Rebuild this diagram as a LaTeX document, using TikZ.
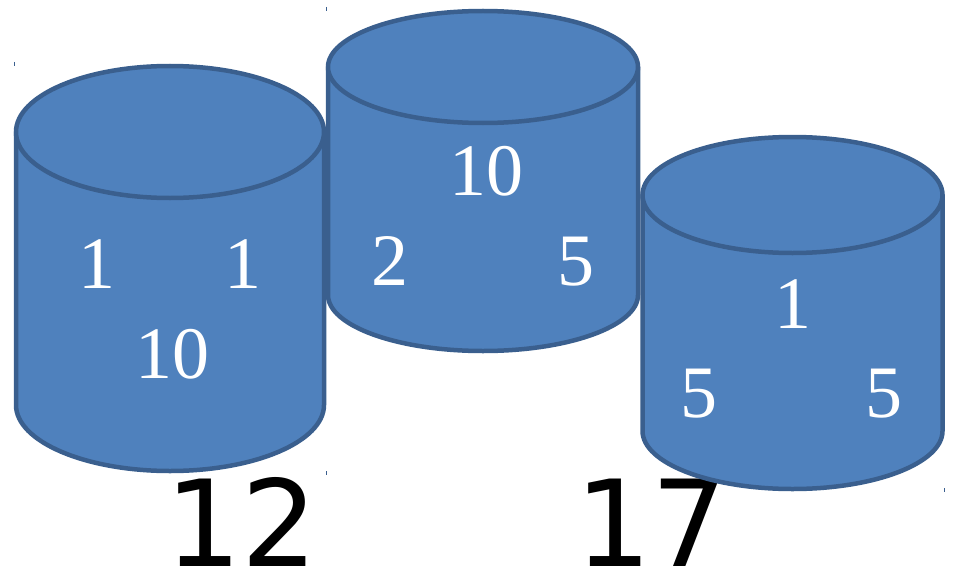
\documentclass[tikz,border=0pt]{standalone}
\usepackage{fontspec}
\setmainfont{Liberation Serif}
\newfontfamily\sumfont{DejaVu Sans}
\definecolor{cylfill}{HTML}{4F81BD}
\definecolor{cyledge}{HTML}{3A5F8E}
\tikzset{
  cylpart/.style={fill=cylfill,draw=cyledge,line width=4.5pt,line join=round},
  numlabel/.style={text=white,inner sep=0pt,anchor=base,font=\fontsize{74}{74}\selectfont},
  sumlabel/.style={text=black,inner sep=0pt,anchor=base,font=\sumfont\fontsize{120}{120}\selectfont}
}
\begin{document}
\begin{tikzpicture}[x=1pt,y=-1pt]
\useasboundingbox (0,0) rectangle (957,575);
\node[sumlabel] (sumleft) at (242,566) {12};
\node[sumlabel] (sumright) at (652,566) {17};
\foreach \cx/\rx/\yt/\yb/\ry in {170/154/132/405/66, 483/155/67/295/56, 792.5/150/195/431/58}
{
\draw[cylpart] (\cx-\rx,\yt) -- (\cx-\rx,\yb) arc[start angle=180,end angle=0,x radius=\rx,y radius=\ry] -- (\cx+\rx,\yt) -- cycle;
\draw[cylpart] (\cx,\yt) ellipse[x radius=\rx,y radius=\ry];
}
\foreach \tx/\ty in {14/64,326/9,326/473,944/490}
\draw[cyledge,line width=1pt] (\tx,\ty-2) -- (\tx,\ty+2);
\node[numlabel] (la) at (97,288) {1};
\node[numlabel] (lb) at (243,288) {1};
\node[numlabel] (lc) at (172,378) {10};
\node[numlabel] (ma) at (486,195) {10};
\node[numlabel] (mb) at (390,285) {2};
\node[numlabel] (mc) at (576,285) {5};
\node[numlabel] (ra) at (793,328) {1};
\node[numlabel] (rb) at (699,417) {5};
\node[numlabel] (rc) at (884,417) {5};
\end{tikzpicture}
\end{document}
